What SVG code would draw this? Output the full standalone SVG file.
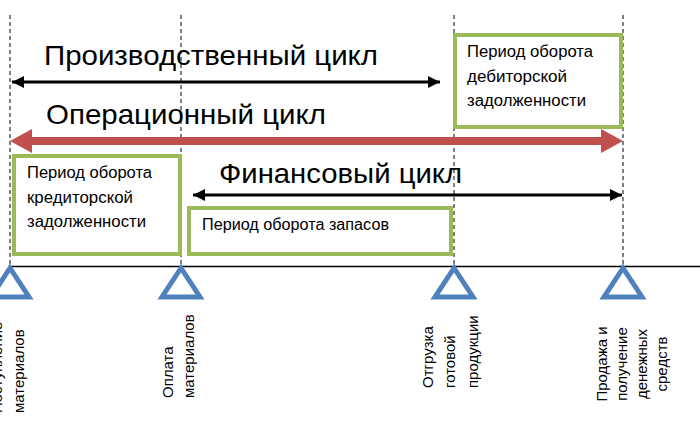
<svg xmlns="http://www.w3.org/2000/svg" width="700" height="435" viewBox="0 0 700 435">
<style>
.big{font-family:"Liberation Sans",Arial,sans-serif;font-size:28px;fill:#000}
.box{fill:#fff;stroke:#9BBB59;stroke-width:4}
.bt{font-family:"Liberation Sans",Arial,sans-serif;font-size:16px;fill:#000}
.vt{font-family:"Liberation Sans",Arial,sans-serif;font-size:15px;fill:#000}
.dash{stroke:#000;stroke-width:1;stroke-dasharray:4,3}
.tri{fill:none;stroke:#4F81BD;stroke-width:5;stroke-linejoin:miter}
</style>
<defs>
<marker id="ab" viewBox="0 0 10 10" refX="10" refY="5" markerWidth="4" markerHeight="4" orient="auto-start-reverse" markerUnits="strokeWidth"><path d="M0,0 L10,5 L0,10 z" fill="#000"/></marker>
</defs>
<rect width="700" height="435" fill="#fff"/>
<g id="connectors">
<line class="dash" x1="10" y1="15" x2="10" y2="266"/>
<line class="dash" x1="181" y1="15" x2="181" y2="266"/>
<line class="dash" x1="454" y1="15" x2="454" y2="266"/>
<line class="dash" x1="623" y1="15" x2="623" y2="266"/>
<line x1="10" y1="266.5" x2="700" y2="266.5" stroke="#000" stroke-width="1.5"/>
<line x1="12" y1="82" x2="440" y2="82" stroke="#000" stroke-width="3" marker-start="url(#ab)" marker-end="url(#ab)"/>
<line x1="193" y1="195" x2="622" y2="195" stroke="#000" stroke-width="3" marker-start="url(#ab)" marker-end="url(#ab)"/>
<path d="M10,141 L32,129 L32,137 L601,137 L601,129 L623,141 L601,153 L601,145 L32,145 L32,153 Z" fill="#C0504D"/>
</g>
<g id="title-production"><text class="big" x="44" y="65" textLength="334" lengthAdjust="spacingAndGlyphs">Производственный цикл</text></g>
<g id="title-operating"><text class="big" x="46" y="124" textLength="280" lengthAdjust="spacingAndGlyphs">Операционный цикл</text></g>
<g id="title-financial"><text class="big" x="219" y="183" textLength="243" lengthAdjust="spacingAndGlyphs">Финансовый цикл</text></g>
<g id="box-receivables">
<rect class="box" x="455" y="35" width="166" height="92"/>
<text class="bt" x="467" y="57" textLength="126" lengthAdjust="spacingAndGlyphs">Период оборота</text>
<text class="bt" x="467" y="82" textLength="100" lengthAdjust="spacingAndGlyphs">дебиторской</text>
<text class="bt" x="467" y="106" textLength="119" lengthAdjust="spacingAndGlyphs">задолженности</text>
</g>
<g id="box-payables">
<rect class="box" x="14" y="156" width="166" height="98"/>
<text class="bt" x="27" y="178" textLength="125" lengthAdjust="spacingAndGlyphs">Период оборота</text>
<text class="bt" x="27" y="203" textLength="106" lengthAdjust="spacingAndGlyphs">кредиторской</text>
<text class="bt" x="27" y="227" textLength="119" lengthAdjust="spacingAndGlyphs">задолженности</text>
</g>
<g id="box-inventory">
<rect class="box" x="189" y="208" width="262" height="46"/>
<text class="bt" x="202" y="230" textLength="187" lengthAdjust="spacingAndGlyphs">Период оборота запасов</text>
</g>
<g id="event-1">
<path class="tri" d="M10,268 L-9,297 L29,297 Z"/>
<text class="vt" transform="translate(2,413) rotate(-90)">Поступление</text>
<text class="vt" transform="translate(24,413) rotate(-90)">материалов</text>
</g>
<g id="event-2">
<path class="tri" d="M181,268 L162,297 L200,297 Z"/>
<text class="vt" transform="translate(173,398) rotate(-90)">Оплата</text>
<text class="vt" transform="translate(194,398) rotate(-90)">материалов</text>
</g>
<g id="event-3">
<path class="tri" d="M454,268 L435,297 L473,297 Z"/>
<text class="vt" transform="translate(433,388) rotate(-90)">Отгрузка</text>
<text class="vt" transform="translate(455,388) rotate(-90)">готовой</text>
<text class="vt" transform="translate(478,388) rotate(-90)">продукции</text>
</g>
<g id="event-4">
<path class="tri" d="M623,268 L604,297 L642,297 Z"/>
<text class="vt" transform="translate(607,364) rotate(-90)" text-anchor="middle">Продажа и</text>
<text class="vt" transform="translate(627,364) rotate(-90)" text-anchor="middle">получение</text>
<text class="vt" transform="translate(647,364) rotate(-90)" text-anchor="middle">денежных</text>
<text class="vt" transform="translate(667,364) rotate(-90)" text-anchor="middle">средств</text>
</g>
</svg>
